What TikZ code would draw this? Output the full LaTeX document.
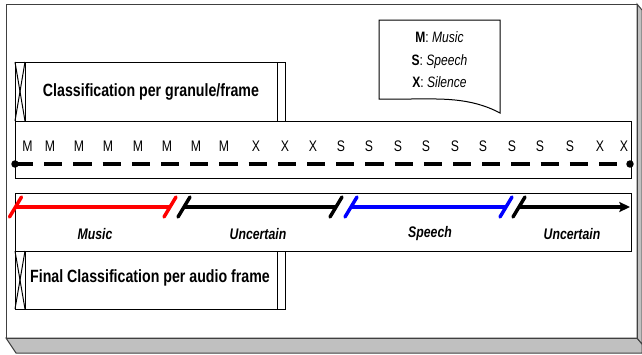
\documentclass[tikz,border=0pt]{standalone}
\usepackage{fontspec}
\setmainfont{Liberation Sans}[FakeStretch=0.8]
\usetikzlibrary{arrows.meta}
\definecolor{panelgray}{HTML}{C0C0C0}
\definecolor{panelline}{HTML}{404040}

\begin{document}
\begin{tikzpicture}[x=0.75pt,y=-0.75pt,
  thinline/.style={draw=black, line width=0.75pt},
  panelbox/.style={draw=black, line width=0.75pt, inner sep=0pt, outer sep=0pt},
  titletext/.style={font=\fontsize{13.3}{16}\selectfont\bfseries, inner sep=0pt},
  seqletter/.style={font=\fontsize{11.5}{13}\selectfont, inner sep=0pt},
  seglabel/.style={font=\fontsize{11.5}{13}\selectfont\bfseries\itshape, inner sep=0pt},
  dashline/.style={line width=2.6pt, dash pattern=on 13.7pt off 8.2pt},
  seg/.style={line width=2.6pt},
  tick/.style={line width=2.6pt, line cap=round},
]
\useasboundingbox (0,0) rectangle (642,354);

% raised outer panel
\fill[white] (6,4) rectangle (637,338);
\filldraw[fill=panelgray, draw=panelline, line width=0.75pt]
  (6,338) -- (637,338) -- (642,344) -- (642,353) -- (16,353) -- cycle;
\filldraw[fill=panelgray, draw=panelline, line width=0.75pt]
  (637,4) -- (642,10) -- (642,344) -- (637,338) -- cycle;
\draw[panelline, line width=0.75pt] (6,4) rectangle (637,338);

% legend (document shape)
\draw[thinline, fill=white] (379,20) -- (500,20) -- (500,113)
  .. controls (470,97) and (440,99) .. (410,99) -- (379,99) -- cycle;
\node[font=\fontsize{11.3}{16.9}\selectfont, align=center, inner sep=0pt] (legend) at (439.5,60)
  {\textbf{M}: \textit{Music}\\ \textbf{S}: \textit{Speech}\\ \textbf{X}: \textit{Silence}};

% granule classification box
\node[panelbox, minimum width=270*0.75pt, minimum height=59*0.75pt] (granule) at (150,91.5) {};
\draw[thinline] ([xshift=7.5pt]granule.north west) -- ([xshift=7.5pt]granule.south west);
\draw[thinline] (granule.north west) -- ([xshift=7.5pt]granule.south west);
\draw[thinline] ([xshift=7.5pt]granule.north west) -- (granule.south west);
\draw[thinline] ([xshift=-6pt]granule.north east) -- ([xshift=-6pt]granule.south east);
\node[titletext] (granuletext) at (151,92) {Classification per granule/frame};

% per-granule label sequence
\node[panelbox, minimum width=616*0.75pt, minimum height=57*0.75pt] (seqbox) at (323,149.5) {};
\foreach \x/\l [count=\i] in {27.5/M,50/M,79/M,108/M,138/M,167/M,196/M,224/M,
  256/X,285/X,313/X,341/S,369/S,398/S,426/S,455/S,483/S,512/S,540/S,570/S,600/X,624/X}
  \node[seqletter] (g\i) at (\x,146) {\l};
\coordinate (dl) at (15,164);
\coordinate (dr) at (630,164);
\draw[dashline] (dl) -- (dr);
\fill (dl) circle (2.8pt);
\fill (dr) circle (2.8pt);

% final segmentation
\node[panelbox, minimum width=616*0.75pt, minimum height=58*0.75pt] (segbox) at (323,222) {};
\coordinate (m1) at (15.5,207);
\coordinate (m2) at (170,207);
\coordinate (u1) at (184,207);
\coordinate (u2) at (336,207);
\coordinate (s1) at (351,207);
\coordinate (s2) at (506,207);
\coordinate (v1) at (519,207);
\coordinate (vend) at (630,207);

\draw[seg, red] (m1) -- (m2);
\draw[seg, black] (u1) -- (u2);
\draw[seg, blue] (s1) -- (s2);
\draw[seg, black, -{Stealth[length=8pt, width=7.5pt, inset=1.5pt]}] (v1) -- (vend);
\foreach \c/\col in {m1/red, m2/red, u1/black, u2/black, s1/blue, s2/blue, v1/black}
  \draw[tick, \col] ([shift={(-6,10)}]\c) -- ([shift={(6,-10)}]\c);

\node[seglabel] (lmusic) at (95,234) {Music};
\node[seglabel] (lunc1) at (258,234) {Uncertain};
\node[seglabel] (lspeech) at (430,234) {Speech};
\node[seglabel] (lunc2) at (572,234) {Uncertain};

% final classification box
\node[panelbox, minimum width=270*0.75pt, minimum height=58*0.75pt] (final) at (150,280) {};
\draw[thinline] ([xshift=7.5pt]final.north west) -- ([xshift=7.5pt]final.south west);
\draw[thinline] (final.north west) -- ([xshift=7.5pt]final.south west);
\draw[thinline] ([xshift=7.5pt]final.north west) -- (final.south west);
\draw[thinline] ([xshift=-6pt]final.north east) -- ([xshift=-6pt]final.south east);
\node[titletext] (finaltext) at (150,278) {Final Classification per audio frame};
\end{tikzpicture}
\end{document}
